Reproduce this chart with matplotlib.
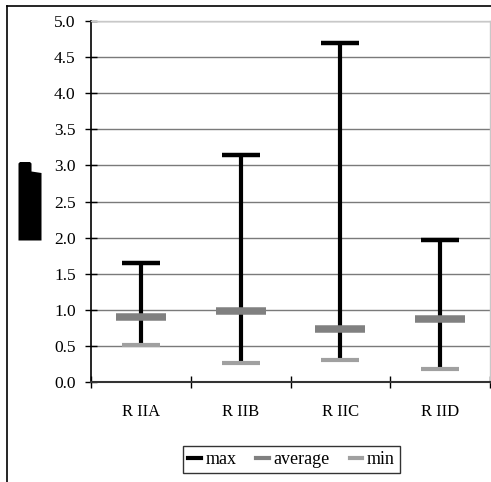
import matplotlib
matplotlib.use("Agg")
import matplotlib.pyplot as plt
from matplotlib.patches import Polygon
from matplotlib.lines import Line2D

categories = ["R IIA", "R IIB", "R IIC", "R IID"]
max_vals = [1.65, 3.14, 4.70, 1.96]
avg_vals = [0.90, 0.99, 0.74, 0.875]
min_vals = [0.51, 0.27, 0.30, 0.185]
yticks = [0.0, 0.5, 1.0, 1.5, 2.0, 2.5, 3.0, 3.5, 4.0, 4.5, 5.0]

W, H = 491, 482
fig = plt.figure(figsize=(W / 100, H / 100), dpi=100)
plt.rcParams['font.family'] = ['Liberation Serif', 'DejaVu Serif']

def fx(px):
    return px / W

def fy(py):
    return 1 - py / H

ax = fig.add_axes([fx(91), fy(382), fx(490) - fx(91), fy(21) - fy(382)])

x = list(range(len(categories)))
ax.vlines(x, min_vals, max_vals, color='black', linewidth=3.0, zorder=3)
ax.plot(x, max_vals, linestyle='none', marker='_', markersize=28, markeredgewidth=3.2,
        color='black', zorder=4)
ax.plot(x, avg_vals, linestyle='none', marker='_', markersize=36, markeredgewidth=5.4,
        color='#808080', zorder=5)
ax.plot(x, min_vals, linestyle='none', marker='_', markersize=28, markeredgewidth=3.0,
        color='#a0a0a0', zorder=5)

ax.set_xlim(-0.5, len(categories) - 0.5)
ax.set_ylim(0, 5.0)
ax.set_yticks(yticks)
ax.set_yticklabels([f"{v:.1f}" for v in yticks], fontsize=12.5)
ax.set_xticks(x)
ax.set_xticklabels(categories, fontsize=12)
ax.set_xticks([i - 0.5 for i in range(len(categories) + 1)], minor=True)
ax.tick_params(axis='x', which='major', length=0, pad=16)
ax.tick_params(axis='x', which='minor', direction='inout', length=8, width=1, color='black')
ax.tick_params(axis='y', direction='inout', length=8, width=1, color='black', pad=7)

ax.yaxis.grid(True, color='#7a7a7a', linewidth=1.0, zorder=0)
ax.set_axisbelow(True)
for s in ['top', 'right']:
    ax.spines[s].set_color('#c8c8c8')
    ax.spines[s].set_linewidth(1.0)
ax.spines['left'].set_color('black')
ax.spines['bottom'].set_color('#333333')
ax.spines['left'].set_linewidth(1.2)
ax.spines['bottom'].set_linewidth(1.5)

# figure outer border (top and left visible)
fig.add_artist(Line2D([fx(6.5), 1.0], [fy(5.5), fy(5.5)], color='black', linewidth=1.2,
                      transform=fig.transFigure))
fig.add_artist(Line2D([fx(6.5), fx(6.5)], [fy(5.5), 0.0], color='black', linewidth=1.2,
                      transform=fig.transFigure))

# y-axis title rendered as a solid black block in the reference
pts = [(18.5, 240.5), (18.5, 163.5), (20, 162), (30, 162), (31.5, 163.5), (31.5, 171.5),
       (41.5, 173), (41.5, 240.5)]
fig.add_artist(Polygon([(fx(a), fy(b)) for a, b in pts], closed=True, facecolor='black',
                       edgecolor='none', transform=fig.transFigure))

handles = [Line2D([], [], color='black', linewidth=3),
           Line2D([], [], color='#808080', linewidth=3),
           Line2D([], [], color='#a0a0a0', linewidth=3)]
leg = fig.legend(handles, ["max", "average", "min"], loc='center',
                 bbox_to_anchor=(fx(291.5), fy(459.5)), ncol=3, frameon=True,
                 fontsize=13, handlelength=0.7, handletextpad=0.25, columnspacing=1.1,
                 borderpad=0.3, fancybox=False, borderaxespad=0)
leg.get_frame().set_edgecolor('black')
leg.get_frame().set_linewidth(1.0)

fig.savefig("out.png", dpi=100)
